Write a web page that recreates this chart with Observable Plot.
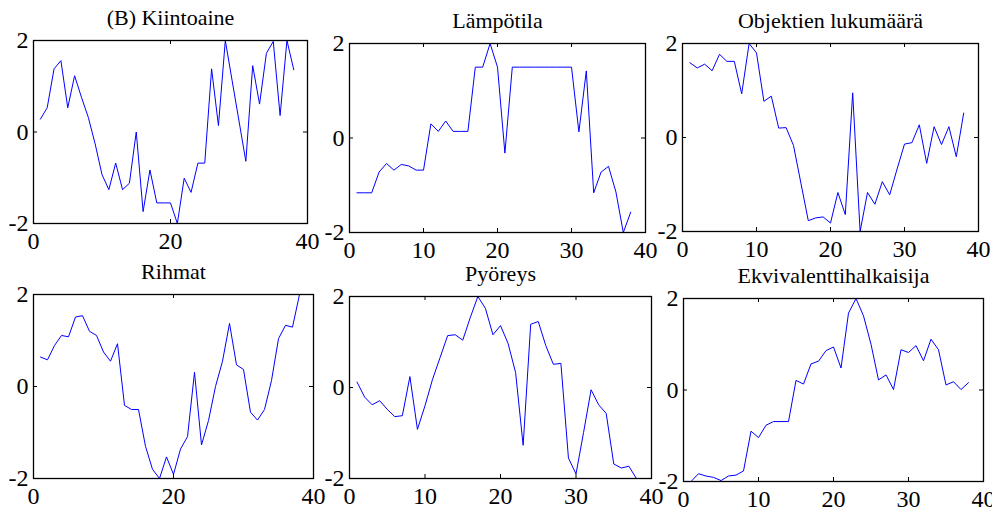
<!DOCTYPE html>
<html>
<head>
<meta charset="utf-8">
<script src="https://cdn.jsdelivr.net/npm/d3@7"></script>
<script src="https://cdn.jsdelivr.net/npm/@observablehq/plot@0.6"></script>
<style>
html, body { margin: 0; padding: 0; background: #fff; }
#chart { position: relative; width: 992px; height: 510px; overflow: hidden; background: #fff; }
#chart svg, #chart svg text, #chart svg g { font-family: "Liberation Serif", "Times New Roman", serif !important; }
</style>
</head>
<body>
<div id="chart"></div>
<script>
// ---- data ----
const titles = ["(B) Kiintoaine", "Lämpötila", "Objektien lukumäärä", "Rihmat", "Pyöreys", "Ekvivalenttihalkaisija"];
const xs = [1,2,3,4,5,6,7,8,9,10,11,12,13,14,15,16,17,18,19,20,21,22,23,24,25,26,27,28,29,30,31,32,33,34,35,36,37,38];
const kiintoaine = [0.28,0.53,1.38,1.56,0.53,1.23,0.76,0.32,-0.26,-0.93,-1.26,-0.68,-1.26,-1.12,0.0,-1.74,-0.83,-1.55,-1.55,-1.55,-2.0,-1.01,-1.32,-0.68,-0.68,1.38,0.14,2.0,1.12,0.24,-0.64,1.45,0.61,1.72,1.98,0.36,2.0,1.36];
const lampotila = [-1.16,-1.16,-1.16,-0.72,-0.54,-0.68,-0.56,-0.59,-0.68,-0.68,0.30,0.14,0.36,0.14,0.14,0.14,1.50,1.50,2.0,1.50,-0.32,1.50,1.50,1.50,1.50,1.50,1.50,1.50,1.50,1.50,0.13,1.42,-1.16,-0.72,-0.60,-1.14,-2.0,-1.57];
const objektit = [1.59,1.48,1.56,1.42,1.77,1.62,1.62,0.93,2.0,1.80,0.77,0.88,0.20,0.21,-0.17,-0.97,-1.77,-1.71,-1.69,-1.82,-1.17,-1.64,0.95,-2.0,-1.17,-1.42,-0.94,-1.22,-0.67,-0.14,-0.11,0.27,-0.55,0.23,-0.15,0.23,-0.41,0.52];
const rihmat = [0.64,0.58,0.89,1.11,1.08,1.51,1.54,1.20,1.11,0.75,0.55,0.93,-0.41,-0.50,-0.50,-1.30,-1.80,-2.0,-1.53,-1.91,-1.36,-1.09,0.31,-1.27,-0.74,0.0,0.55,1.37,0.47,0.37,-0.56,-0.73,-0.50,0.13,1.04,1.33,1.29,2.0];
const pyoreys = [0.12,-0.21,-0.38,-0.29,-0.48,-0.64,-0.62,0.24,-0.92,-0.40,0.18,0.66,1.14,1.16,1.04,1.54,2.0,1.74,1.16,1.36,0.97,0.33,-1.27,1.39,1.45,0.92,0.51,0.53,-1.55,-1.90,-0.99,-0.05,-0.38,-0.57,-1.68,-1.77,-1.73,-2.0];
const ekvivalentti = [-2.0,-1.83,-1.88,-1.91,-1.98,-1.88,-1.86,-1.77,-0.90,-1.04,-0.77,-0.69,-0.69,-0.69,0.21,0.13,0.57,0.63,0.86,0.94,0.48,1.68,2.0,1.62,1.0,0.22,0.33,0.01,0.88,0.82,0.97,0.64,1.11,0.88,0.11,0.18,0.01,0.16];
const xTicksCoarse = [0, 20, 40];
const xTicksFine = [0, 10, 20, 30, 40];
const yTicks = [-2, 0, 2];

// ---- layout (frame boxes in page pixels) ----
const panels = [
  {title: titles[0], values: kiintoaine, xticks: xTicksCoarse, box: {x: 33, y: 40, w: 274, h: 183}},
  {title: titles[1], values: lampotila, xticks: xTicksFine, box: {x: 349, y: 43, w: 296, h: 189}},
  {title: titles[2], values: objektit, xticks: xTicksFine, box: {x: 682, y: 43, w: 296, h: 188}},
  {title: titles[3], values: rihmat, xticks: xTicksCoarse, box: {x: 33, y: 294, w: 280, h: 184}},
  {title: titles[4], values: pyoreys, xticks: xTicksFine, box: {x: 349, y: 296, w: 302, h: 182}},
  {title: titles[5], values: ekvivalentti, xticks: xTicksFine, box: {x: 683, y: 298, w: 300, h: 183}}
];

const chart = document.getElementById("chart");
const FONT = "Liberation Serif";

for (const p of panels) {
  const {x, y, w, h} = p.box;
  const mL = 45, mR = 25, mT = 42, mB = 42;
  const data = xs.map((xv, i) => ({x: xv, y: p.values[i]}));
  const svg = Plot.plot({
    width: mL + w + mR,
    height: mT + h + mB,
    marginLeft: mL, marginRight: mR, marginTop: mT, marginBottom: mB,
    x: {domain: [0, 40], label: null},
    y: {domain: [-2, 2], label: null},
    style: {background: "transparent", overflow: "visible", fontSize: "24px", color: "black"},
    marks: [
      Plot.line(data, {x: "x", y: "y", stroke: "#0000ff", strokeWidth: 1}),
      Plot.frame({stroke: "black", strokeWidth: 1.3}),
      Plot.tickX(p.xticks, {x: d => d, insetTop: h - 4, stroke: "black"}),
      Plot.tickX(p.xticks, {x: d => d, insetBottom: h - 4, stroke: "black"}),
      Plot.tickY(yTicks, {y: d => d, insetRight: w - 4, stroke: "black"}),
      Plot.tickY(yTicks, {y: d => d, insetLeft: w - 4, stroke: "black"}),
      Plot.axisX(p.xticks, {anchor: "bottom", tickSize: 0, tickPadding: 8, tickFormat: d => String(d), label: null, fill: "black", fontFamily: FONT}),
      Plot.axisY(yTicks, {anchor: "left", tickSize: 0, tickPadding: 5, tickFormat: d => String(d), label: null, fill: "black", fontFamily: FONT}),
      Plot.text([p.title], {frameAnchor: "top", dy: -16, lineAnchor: "bottom", fontSize: 22, fill: "black", fontFamily: FONT})
    ]
  });
  svg.style.position = "absolute";
  svg.style.left = (x - mL) + "px";
  svg.style.top = (y - mT) + "px";
  svg.style.maxWidth = "none";
  chart.appendChild(svg);
}
</script>
</body>
</html>
